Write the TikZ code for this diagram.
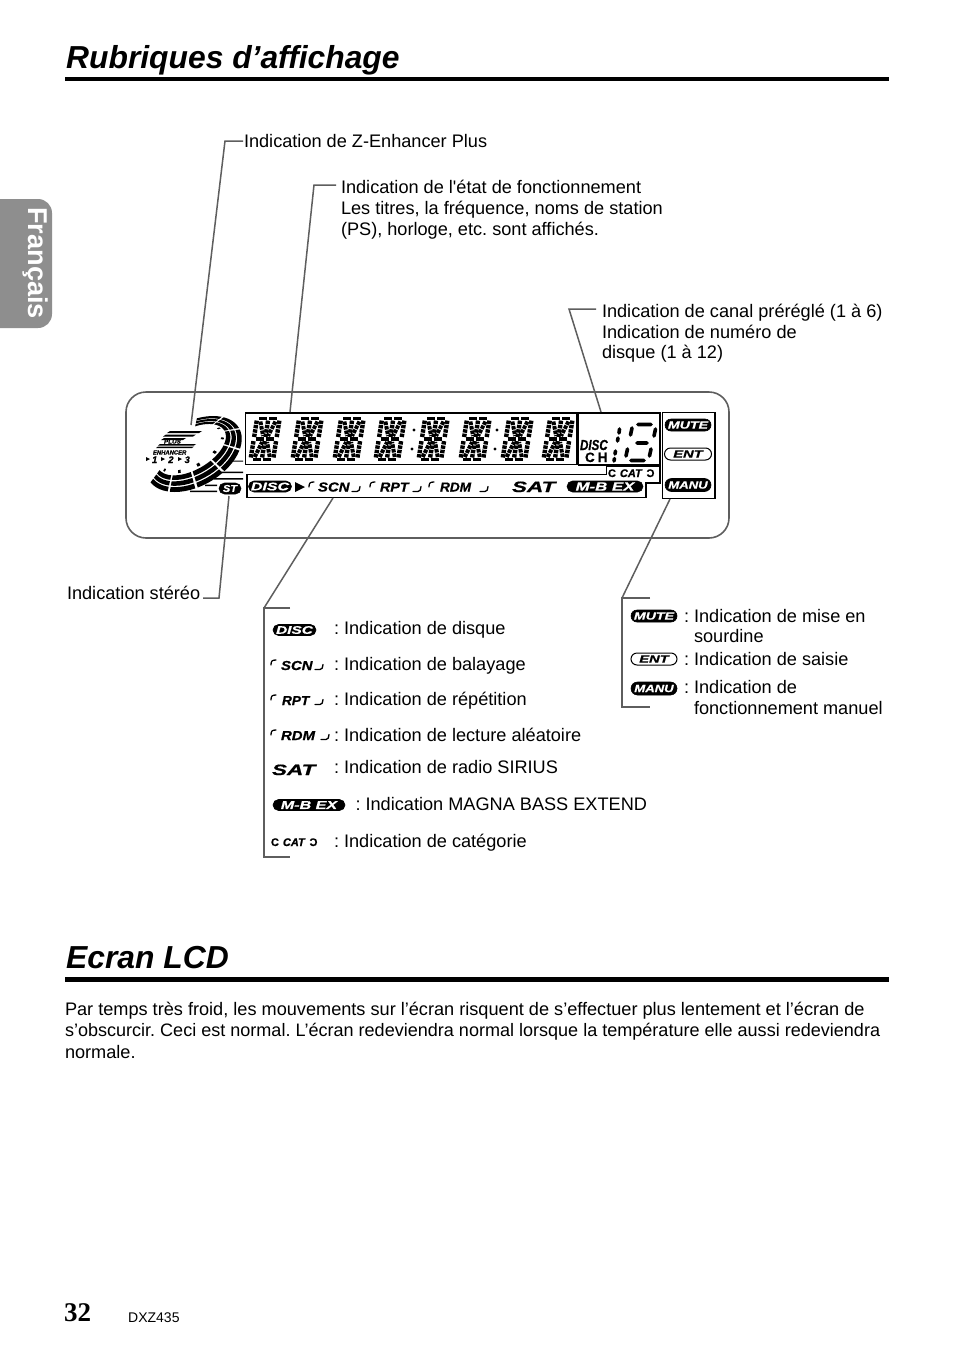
\documentclass[tikz,border=0pt]{standalone}
\usepackage{fontspec}
\usepackage{graphicx}
\setmainfont{Liberation Sans}
\newfontfamily\timesf{Liberation Serif}
\newfontfamily\plainf{Liberation Sans}
\newfontfamily\heavyf[FakeBold=0.7]{Liberation Sans}
\frenchspacing
\usetikzlibrary{shapes.misc}
\definecolor{leadc}{HTML}{5E5E5E}
\definecolor{tabc}{HTML}{8E8E8E}
\tikzset{
  x=1pt,y=-1pt,
  txt/.style={anchor=base west,inner sep=0,outer sep=0,font=\fontsize{18.15}{21}\selectfont,text=black},
  title/.style={anchor=base west,inner sep=0,font=\fontsize{31.8}{36}\selectfont\bfseries\itshape},
  leader/.style={draw=leadc,line width=1.5pt,line join=miter},
  bar/.style={fill=black,draw=none},
  lcdbox/.style={draw=black,line width=1.9pt},
  pillb/.style={rounded rectangle,fill=black,draw=black,line width=.6pt,text=white,inner sep=0,minimum width=#1,minimum height=12pt,font=\heavyf\bfseries\itshape},
  pillw/.style={rounded rectangle,fill=white,draw=black,line width=1pt,text=black,inner sep=0,minimum width=#1,minimum height=12pt,font=\heavyf\bfseries\itshape},
  logot/.style={inner sep=0,outer sep=0,anchor=base west,font=\heavyf\bfseries\itshape,text=black},
  lcdv/.style={line width=4.4pt,dash pattern=on 3.4pt off 1pt,draw=black},
  lcdh/.style={line width=3.8pt,draw=black},
  lcdd/.style={line width=4pt,dash pattern=on 3.6pt off 1pt,draw=black},
  bigseg/.style={line width=3.6pt,draw=black,line cap=round},
}
\newcommand{\wdt}[3]{\scalebox{#2}[1]{\fontsize{#1}{#1}\selectfont #3}}
\newcommand{\lcddigit}[2]{%
\begin{scope}[shift={(#1,#2)},xslant=0.16]
 \draw[lcdd] (6,-40)--(11,-25.5) (21,-40)--(16,-25.5) (6,-4.5)--(11,-19.5) (21,-4.5)--(16,-19.5);
 \foreach \xx in {2.2,13.5,24.8}{\draw[lcdv] (\xx,-4)--(\xx,-20.5) (\xx,-24.5)--(\xx,-41);}
 \foreach \yy in {-43,-22.5,-2}{\draw[lcdh] (4.5,\yy)--(12.5,\yy) (14.5,\yy)--(22.5,\yy);}
\end{scope}}
\newcommand{\lbrk}[3][1.3pt]{\draw[line width=#1,line cap=round] (#2,#3+5) .. controls (#2,#3+1) and (#2+1,#3) .. (#2+5,#3);}
\newcommand{\rbrk}[3][1.3pt]{\draw[line width=#1,line cap=round] (#2,#3) -- (#2+5,#3) .. controls (#2+7,#3) and (#2+8,#3-2) .. (#2+8,#3-5);}
\newcommand{\rseg}[4]{\fill plot[domain=#1:#2,samples=6] ({(38+14*#3)*cos(\x)},{5*(1-#3)+(20+12*#3)*sin(\x)}) -- plot[domain=#2:#1,samples=6] ({(38+14*#4)*cos(\x)},{5*(1-#4)+(20+12*#4)*sin(\x)}) -- cycle;}
\begin{document}
\begin{tikzpicture}
\useasboundingbox[fill=white] (0,0) rectangle (954,1352);
% side tab
\fill[tabc] (0,199) -- (38,199) arc[start angle=90,end angle=0,x radius=14,y radius=-14] -- (52,314) arc[start angle=0,end angle=-90,x radius=14,y radius=-14] -- (0,328) -- cycle;
\node[rotate=-90,text=white,inner sep=0,font=\fontsize{27.2}{27}\selectfont\bfseries] (tabtext) at (36,263) {Français};
% titles
\node[title] (t1) at (66,68) {Rubriques d’affichage};
\fill[bar] (65,77) rectangle (889,81);
\node[title] (t2) at (66,968) {Ecran LCD};
\fill[bar] (65,977) rectangle (889,982);
% panel
\draw[draw=leadc,line width=1.6pt,rounded corners=20pt] (126,392) rectangle (729,538);
% lcd boxes
\draw[lcdbox] (245.5,413) rectangle (577,464.5);
\draw[lcdbox] (578.5,413) rectangle (660,465);
\draw[lcdbox] (662.5,412.5) rectangle (715,498.5);
\draw[lcdbox] (247,474.5) -- (606.5,474.5) -- (606.5,466.5) -- (660,466.5) -- (660,483) -- (646,483) -- (646,497.5) -- (247,497.5) -- cycle;
% digits
\foreach \dx in {248,290,332,373,416,458,500,541}{\lcddigit{\dx}{461.5}}
\fill (414,430) circle (1.7) (412,449) circle (1.7) (497,430) circle (1.7) (495,449) circle (1.7);
% right digit panel
\node[logot] (discsm) at (580,450) {\wdt{14.5}{.8}{DISC}};
\node[logot,font=\heavyf\bfseries] (chsm) at (585,462) {\fontsize{13.5}{13.5}\selectfont C\hspace{3pt}H};
\draw[bigseg] (619.5,429) -- (619,433) (618,438) -- (617.5,441) (615.5,451) -- (615,454) (614.5,458.5) -- (614,461);
\draw[bigseg] (638,424.5) -- (651,424.5) (632,428) -- (630.5,435) (655.5,429) -- (654,436) (637,443) -- (647,443) (627.5,449) -- (626,456) (651,449) -- (649.5,456) (631,460.5) -- (644,460.5);
% pills panel
\node[pillb=46pt] (mute) at (688,425) {\wdt{10.5}{1.35}{MUTE}};
\node[pillw=47pt] (ent) at (688,454) {\wdt{10.5}{1.4}{ENT}};
\node[pillb=46pt,minimum height=13pt] (manu) at (688,485) {\wdt{10.5}{1.25}{MANU}};
% status row
\node[pillb=43pt,minimum height=11pt] (disc) at (270,486.5) {\wdt{11}{1.45}{DISC}};
\fill (295,482) -- (305,487) -- (295,492) -- cycle;
\lbrk{309}{482}
\node[logot] (scn) at (318,491.5) {\wdt{13}{1.15}{SCN}};
\rbrk{352}{491.5}
\lbrk{370}{482}
\node[logot] (rpt) at (380,491.5) {\wdt{13}{1.1}{RPT}};
\rbrk{413}{491.5}
\lbrk{429}{482}
\node[logot] (rdm) at (440,491.5) {\wdt{13}{1.05}{RDM}};
\rbrk{480}{491.5}
\node[logot] (sat) at (512,492) {\wdt{15}{1.5}{SAT}};
\node[pillb=76pt,minimum height=11pt] (mbex) at (605,486.5) {\wdt{12}{1.4}{M-B EX}};
\node[logot,font=\heavyf\bfseries] (cat) at (608,477) {\wdt{11}{1.0}{C\hspace{4pt}\textit{CAT}\hspace{4pt}\reflectbox{C}}};
% disc logo
\begin{scope}[shift={(194,454)},x=1pt,y=1pt,rotate=30]
 \foreach \t in {-175,-140,...,35}{
   \rseg{\t}{\t+32}{0}{0.28}
   \rseg{\t}{\t+32}{0.36}{0.63}
   \rseg{\t}{\t+32}{0.71}{1}
 }
 \foreach \t in {-165,-130,...,20}{\rseg{\t}{\t+5}{-0.3}{-0.12}}
\end{scope}
\fill (170,431) -- (202,431) -- (199,433) -- (167,433) -- cycle (166,434.5) -- (196,434.5) -- (193,436.5) -- (163,436.5) -- cycle (164,438) -- (186,438) -- (183,440) -- (161,440) -- cycle;
\fill (160,444) -- (196,444) -- (194,445.5) -- (158,445.5) -- cycle (158,446.5) -- (194,446.5) -- (192,448) -- (156,448) -- cycle;
\node[logot] (plus) at (164,443.5) {\wdt{5.5}{1.15}{PLUS}};
\node[logot] (enh) at (153,454.5) {\wdt{6}{.98}{ENHANCER}};
\node[logot] (n123) at (152,463) {\wdt{9.5}{1}{1\hspace{11pt}2\hspace{11pt}3}};
\fill (146,457) -- (150,459) -- (146,461) -- cycle (161,457) -- (165,459) -- (161,461) -- cycle (178,457) -- (182,459) -- (178,461) -- cycle;
\fill (232,460.5) rectangle (243,461.5) (220,471.5) rectangle (243,473) (214,478) rectangle (243,479.5) (205,484.5) rectangle (217,486) (190,490.5) rectangle (217,492);
\node[pillb=22pt,minimum height=11pt] (st) at (230,488.5) {\wdt{10}{1.1}{ST}};
% leaders
\coordinate (a1) at (243,141); \coordinate (a2) at (225,141); \coordinate (a3) at (191,425);
\coordinate (b1) at (336,185); \coordinate (b2) at (314,185); \coordinate (b3) at (290,412);
\coordinate (c1) at (596,309); \coordinate (c2) at (569,309); \coordinate (c3) at (601,412);
\coordinate (d1) at (203,598); \coordinate (d2) at (219,598); \coordinate (d3) at (229,496);
\coordinate (e1) at (333,498); \coordinate (e2) at (264,608); \coordinate (e3) at (290,608); \coordinate (e4) at (264,857); \coordinate (e5) at (290,857);
\coordinate (f1) at (670,499); \coordinate (f2) at (622,598); \coordinate (f3) at (650,598); \coordinate (f4) at (622,707); \coordinate (f5) at (650,707);
\draw[leader] (a1) -- (a2) -- (a3);
\draw[leader] (b1) -- (b2) -- (b3);
\draw[leader] (c1) -- (c2) -- (c3);
\draw[leader] (d1) -- (d2) -- (d3);
\draw[leader] (e1) -- (e2);
\draw[leader] (e3) -- (e2) -- (e4) -- (e5);
\draw[leader] (f1) -- (f2);
\draw[leader] (f3) -- (f2) -- (f4) -- (f5);
% top labels
\node[txt] (l1) at (244,147) {Indication de Z-Enhancer Plus};
\node[txt] (l2) at (341,193.5) {Indication de l{\plainf '}état de fonctionnement};
\node[txt] (l3) at (341,214.5) {Les titres, la fréquence, noms de station};
\node[txt] (l4) at (341,235.5) {(PS), horloge, etc. sont affichés.};
\node[txt] (l5) at (602,317) {Indication de canal préréglé (1 à 6)};
\node[txt] (l6) at (602,338) {Indication de numéro de};
\node[txt] (l7) at (602,358) {disque (1 à 12)};
\node[txt] (l8) at (67,599) {Indication stéréo};
% legend left
\node[pillb=43pt,minimum height=11pt] (ldisc) at (294.5,630) {\wdt{11}{1.4}{DISC}};
\node[txt] (m1) at (334,634) {: Indication de disque};
\lbrk{271}{660}
\node[logot] (lscn) at (281,670) {\wdt{13}{1.15}{SCN}};
\rbrk{315}{669.5}
\node[txt] (m2) at (334,670) {: Indication de balayage};
\lbrk{271}{695}
\node[logot] (lrpt) at (282,705) {\wdt{13}{1.05}{RPT}};
\rbrk{315}{704.5}
\node[txt] (m3) at (334,705) {: Indication de répétition};
\lbrk{271}{730}
\node[logot] (lrdm) at (281,740) {\wdt{13}{1.15}{RDM}};
\rbrk{321}{739.5}
\node[txt] (m4) at (334,741) {: Indication de lecture aléatoire};
\node[logot] (lsat) at (272,775) {\wdt{15}{1.5}{SAT}};
\node[txt] (m5) at (334,773) {: Indication de radio SIRIUS};
\node[pillb=72pt,minimum height=11pt] (lmbex) at (309,805) {\wdt{11.5}{1.4}{M-B EX}};
\node[txt] (m6) at (355.5,810) {: Indication MAGNA BASS EXTEND};
\node[logot,font=\heavyf\bfseries] (lcat) at (271,846) {\wdt{11}{1.0}{C\hspace{4pt}\textit{CAT}\hspace{4pt}\reflectbox{C}}};
\node[txt] (m7) at (334,847) {: Indication de catégorie};
% legend right
\node[pillb=46pt] (rmute) at (654,616) {\wdt{10.5}{1.35}{MUTE}};
\node[txt] (r1) at (684,622) {: Indication de mise en};
\node[txt] (r2) at (694,642) {sourdine};
\node[pillw=46pt] (rent) at (654,659) {\wdt{10.5}{1.4}{ENT}};
\node[txt] (r3) at (684,665) {: Indication de saisie};
\node[pillb=46pt,minimum height=13pt] (rmanu) at (654,688.5) {\wdt{10.5}{1.25}{MANU}};
\node[txt] (r4) at (684,693.5) {: Indication de};
\node[txt] (r5) at (694,714.5) {fonctionnement manuel};
% paragraph
\node[txt] (p1) at (65,1015) {Par temps très froid, les mouvements sur l’écran risquent de s’effectuer plus lentement et l’écran de};
\node[txt,font=\fontsize{18.04}{21}\selectfont] (p2) at (65,1036) {s’obscurcir. Ceci est normal. L’écran redeviendra normal lorsque la température elle aussi redeviendra};
\node[txt] (p3) at (65,1058) {normale.};
% footer
\node[anchor=base west,inner sep=0,font=\timesf\bfseries\fontsize{27}{27}\selectfont] (pg) at (64,1321) {32};
\node[anchor=base west,inner sep=0,font=\fontsize{14}{14}\selectfont] (mdl) at (128,1322) {DXZ435};
\end{tikzpicture}
\end{document}
